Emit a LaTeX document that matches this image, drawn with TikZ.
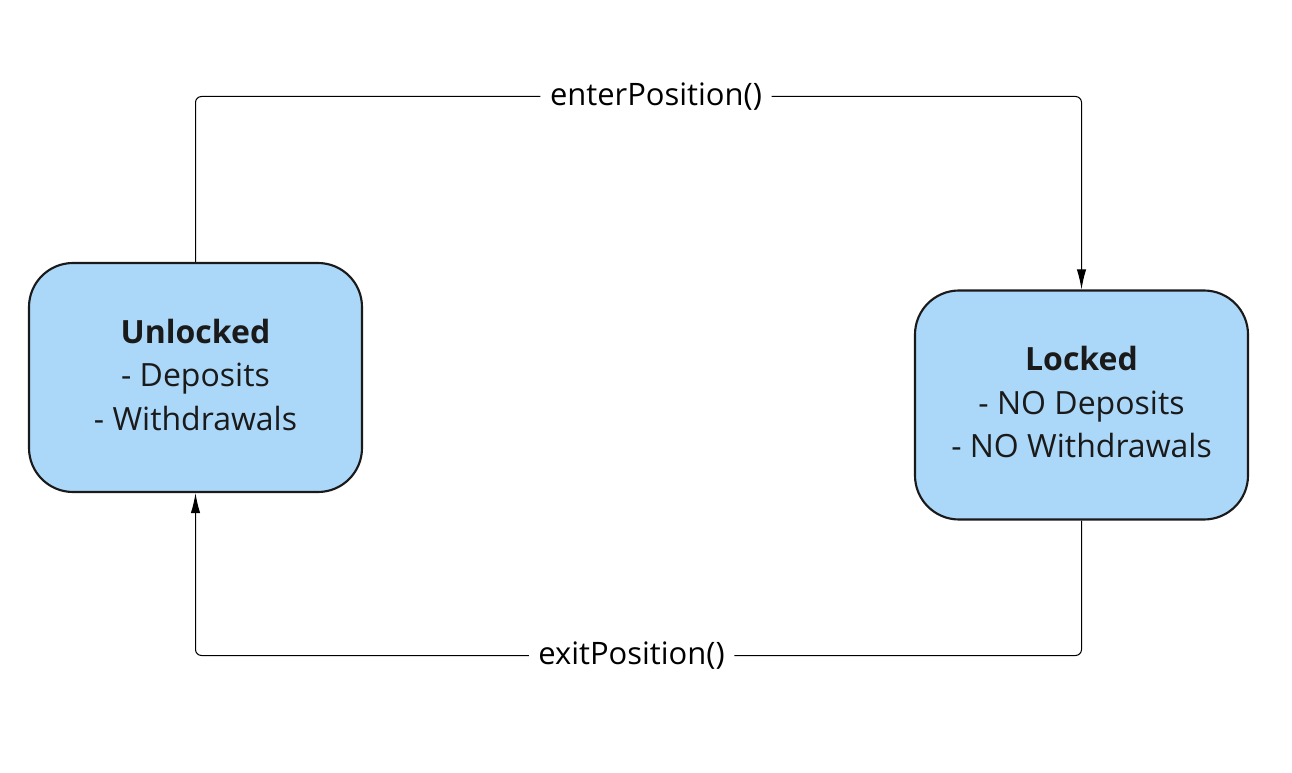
\documentclass[tikz,border=0pt]{standalone}
\usepackage{fontspec}
\setmainfont{Open Sans}
\usetikzlibrary{arrows.meta,positioning}
\definecolor{statefill}{HTML}{ABD7F8}
\definecolor{statetext}{HTML}{1A1A1A}
\tikzset{
	state/.style={draw=statetext, fill=statefill, line width=1.6pt, rounded corners=33pt,
		minimum width=249.75pt, minimum height=171.75pt, align=center, text=statetext,
		text depth=4.5pt, font=\fontsize{24}{32.6}\selectfont},
	conn/.style={line width=0.75pt, rounded corners=4.5pt},
	lbl/.style={fill=white, inner sep=7pt, font=\fontsize{23.2}{27}\selectfont}
}
\begin{document}
\begin{tikzpicture}[x=0.75pt, y=-0.75pt, >={Latex[length=15pt,width=7pt]}]
	% Rahmen
	\useasboundingbox (0,0) rectangle (1292,773);
	
	% Zustaende
	\node[state] (unl) at (195.5,377.5) {\textbf{Unlocked}\\- Deposits\\- Withdrawals};
	\node[state] (lck) at (1081.5,405) {\textbf{Locked}\\- NO Deposits\\- NO Withdrawals};
	
	% Beschriftungen
	\node[lbl] (enter) at (656,96.5) {enterPosition()};
	\node[lbl] (exit) at (631.5,655.5) {exitPosition()};
	
	% Uebergaenge
	\draw[conn] (unl.north) |- (enter.west);
	\draw[conn,->] (enter.east) -| (lck.north);
	\draw[conn] (lck.south) |- (exit.east);
	\draw[conn,->] (exit.west) -| (unl.south);
\end{tikzpicture}
\end{document}
